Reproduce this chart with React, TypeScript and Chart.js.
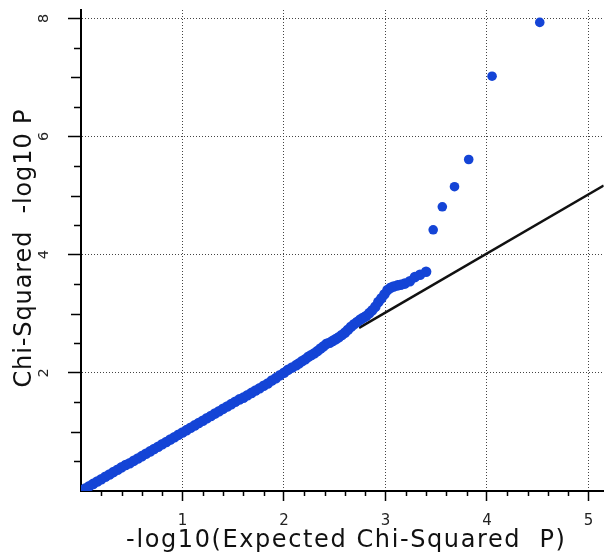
import React, { useEffect, useRef } from 'react';
import { Chart, registerables } from 'chart.js';

Chart.register(...registerables);

// Observed vs expected -log10 P (dense band)
const bandX = [
  0.00, 0.04, 0.08, 0.12, 0.16, 0.20, 0.24, 0.28, 0.32, 0.36,
  0.40, 0.44, 0.48, 0.52, 0.56, 0.60, 0.64, 0.68, 0.72, 0.76,
  0.80, 0.84, 0.88, 0.92, 0.96, 1.00, 1.04, 1.08, 1.12, 1.16,
  1.20, 1.24, 1.28, 1.32, 1.36, 1.40, 1.44, 1.48, 1.52, 1.56,
  1.60, 1.64, 1.68, 1.72, 1.76, 1.80, 1.84, 1.88, 1.92, 1.96,
  2.00, 2.04, 2.08, 2.12, 2.15, 2.18, 2.21, 2.24, 2.27, 2.30,
  2.33, 2.36, 2.39, 2.42, 2.45, 2.48, 2.51, 2.54, 2.57, 2.60,
  2.63, 2.66, 2.69, 2.72, 2.75, 2.78, 2.81, 2.84, 2.87, 2.90,
  2.93, 2.96, 2.99, 3.02, 3.05, 3.08, 3.12, 3.15, 3.19, 3.24,
  3.29, 3.34, 3.40,
];
const bandY = [
  0.01, 0.04, 0.08, 0.12, 0.16, 0.20, 0.24, 0.28, 0.32, 0.36,
  0.40, 0.44, 0.47, 0.51, 0.55, 0.59, 0.63, 0.67, 0.71, 0.75,
  0.79, 0.83, 0.87, 0.91, 0.95, 0.99, 1.03, 1.07, 1.11, 1.15,
  1.19, 1.23, 1.27, 1.31, 1.35, 1.39, 1.43, 1.47, 1.51, 1.55,
  1.58, 1.62, 1.66, 1.70, 1.74, 1.78, 1.82, 1.87, 1.91, 1.96,
  2.00, 2.05, 2.09, 2.13, 2.16, 2.20, 2.23, 2.27, 2.30, 2.33,
  2.37, 2.41, 2.45, 2.49, 2.51, 2.54, 2.57, 2.60, 2.64, 2.68,
  2.73, 2.78, 2.82, 2.86, 2.90, 2.93, 2.96, 3.01, 3.06, 3.12,
  3.20, 3.26, 3.33, 3.40, 3.44, 3.46, 3.48, 3.49, 3.51, 3.55,
  3.62, 3.66, 3.71,
];

// Isolated top points
const tailX = [3.47, 3.56, 3.68, 3.82, 4.05, 4.52];
const tailY = [4.42, 4.81, 5.15, 5.61, 7.02, 7.93];

// Expected (reference) line
const refX = [2.74, 5.15];
const refY = [2.76, 5.17];

// Axis ranges and ticks
const xMin = 0;
const xMax = 5.15;
const yMin = 0;
const yMax = 8.14;
const xMinorTicks = [
  0.2, 0.4, 0.6, 0.8, 1.2, 1.4, 1.6, 1.8, 2.2, 2.4, 2.6, 2.8,
  3.2, 3.4, 3.6, 3.8, 4.2, 4.4, 4.6, 4.8,
];
const yMinorTicks = [0.5, 1, 1.5, 2.5, 3, 3.5, 4.5, 5, 5.5, 6.5, 7, 7.5];

const xTitle = '-log10(Expected Chi-Squared  P)';
const yTitle = 'Chi-Squared  -log10 P';

const BLUE = '#1444d6';
const FONT = 'DejaVu Sans';

const minorTickPlugin = {
  id: 'minorTicks',
  afterDraw(chart: any) {
    const { ctx, chartArea, scales } = chart;
    const xs = scales.x;
    const ys = scales.y;
    ctx.save();
    ctx.strokeStyle = '#000';
    ctx.lineWidth = 1.5;
    ctx.beginPath();
    xMinorTicks.forEach((v) => {
      const px = Math.round(xs.getPixelForValue(v)) + 0.5;
      ctx.moveTo(px, chartArea.bottom);
      ctx.lineTo(px, chartArea.bottom + 5);
    });
    yMinorTicks.forEach((v) => {
      const py = Math.round(ys.getPixelForValue(v)) + 0.5;
      const len = Number.isInteger(v) ? 10 : 7;
      ctx.moveTo(chartArea.left, py);
      ctx.lineTo(chartArea.left - len, py);
    });
    ctx.stroke();
    ctx.restore();
  },
};

const axisTitlePlugin = {
  id: 'axisTitles',
  afterDraw(chart: any) {
    const { ctx, chartArea } = chart;
    ctx.save();
    ctx.fillStyle = '#111';
    ctx.font = `24px "${FONT}"`;
    ctx.textAlign = 'center';
    ctx.textBaseline = 'middle';
    // x title
    (ctx as any).letterSpacing = '1.6px';
    ctx.fillText(xTitle, (chartArea.left + chartArea.right) / 2 + 4, chart.height - 17);
    // y title
    (ctx as any).letterSpacing = '0.9px';
    ctx.translate(25, (chartArea.top + chartArea.bottom) / 2 - 2);
    ctx.rotate(-Math.PI / 2);
    ctx.fillText(yTitle, 0.45, 0);
    ctx.restore();
    (ctx as any).letterSpacing = '0px';
  },
};

export default function App() {
  const canvasRef = useRef<HTMLCanvasElement | null>(null);

  useEffect(() => {
    document.body.style.margin = '0';
    const canvas = canvasRef.current;
    if (!canvas) return;

    const bandData = bandX.map((x, i) => ({ x, y: bandY[i] }));
    const tailData = tailX.map((x, i) => ({ x, y: tailY[i] }));
    const refData = refX.map((x, i) => ({ x, y: refY[i] }));

    const chart = new Chart(canvas, {
      type: 'scatter',
      data: {
        datasets: [
          {
            label: 'observed',
            data: bandData,
            backgroundColor: BLUE,
            borderWidth: 0,
            pointRadius: 5.3,
            order: 1,
          },
          {
            label: 'top',
            data: tailData,
            backgroundColor: BLUE,
            borderWidth: 0,
            pointRadius: 4.8,
            order: 1,
          },
          {
            label: 'expected',
            data: refData,
            showLine: true,
            borderColor: '#111',
            borderWidth: 2.5,
            pointRadius: 0,
            order: 2,
          },
        ],
      },
      options: {
        animation: false,
        responsive: false,
        events: [],
        layout: { padding: { top: 10, left: 0, right: 0, bottom: 0 } },
        plugins: {
          legend: { display: false },
          tooltip: { enabled: false },
        },
        scales: {
          x: {
            type: 'linear',
            position: 'bottom',
            min: xMin,
            max: xMax,
            afterFit(s: any) {
              s.height = 67;
              s.paddingLeft = 0;
              s.paddingRight = 0;
            },
            ticks: {
              stepSize: 1,
              includeBounds: false,
              autoSkip: false,
              maxRotation: 0,
              padding: 11,
              color: '#222',
              font: { family: FONT, size: 15 },
              callback: (v: any) => (v === 0 ? '' : String(v)),
            },
            grid: {
              color: (c: any) => (c.tick && c.tick.value === 0 ? 'rgba(0,0,0,0)' : '#444'),
              lineWidth: 1,
              tickLength: 10,
              tickWidth: 1.5,
              tickColor: (c: any) => (c.tick && c.tick.value === 0 ? 'rgba(0,0,0,0)' : '#000'),
            },
            border: { display: true, color: '#000', width: 2, dash: [1, 2] },
            title: { display: false },
          },
          y: {
            type: 'linear',
            position: 'left',
            min: yMin,
            max: yMax,
            afterFit(s: any) {
              s.width = 81;
              s.paddingTop = 0;
              s.paddingBottom = 0;
            },
            ticks: {
              stepSize: 2,
              includeBounds: false,
              autoSkip: false,
              minRotation: 90,
              maxRotation: 90,
              crossAlign: 'center',
              padding: 19,
              color: '#222',
              font: { family: FONT, size: 14.5 },
              callback: (v: any) => (v === 0 ? '' : String(v)),
            },
            grid: {
              color: (c: any) => (c.tick && c.tick.value === 0 ? 'rgba(0,0,0,0)' : '#444'),
              lineWidth: 1,
              tickLength: 13,
              tickWidth: 1.5,
              tickColor: (c: any) => (c.tick && c.tick.value === 0 ? 'rgba(0,0,0,0)' : '#000'),
            },
            border: { display: true, color: '#000', width: 2, dash: [1, 2] },
            title: { display: false },
          },
        },
      },
      plugins: [minorTickPlugin, axisTitlePlugin],
    } as any);

    return () => chart.destroy();
  }, []);

  return (
    <div style={{ width: 609, height: 558 }}>
      <canvas ref={canvasRef} width={609} height={558} style={{ display: 'block' }} />
    </div>
  );
}
